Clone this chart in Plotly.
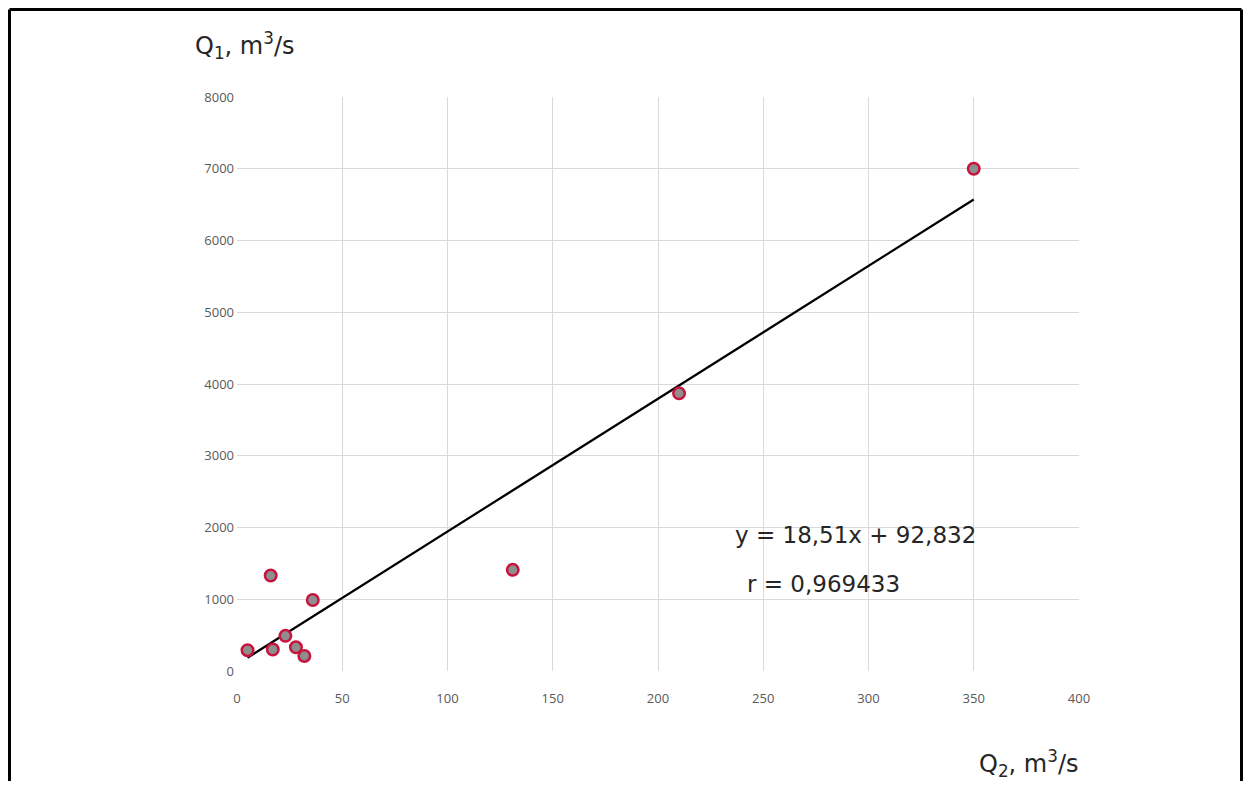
import plotly.graph_objects as go

# Data
q2 = [5, 17, 16, 36, 23, 28, 32, 131, 210, 350]
q1 = [290, 300, 1330, 990, 490, 330, 210, 1410, 3870, 7000]
slope = 18.51
intercept = 92.832
eq_text = "y = 18,51x + 92,832"
r_text = "r = 0,969433"
x_ticks = [0, 50, 100, 150, 200, 250, 300, 350, 400]
y_ticks = [0, 1000, 2000, 3000, 4000, 5000, 6000, 7000, 8000]

OFF = 8  # page body margin
W, H = 1251 - 2 * OFF, 789 - 2 * OFF
L, T = 237 - OFF, 97 - OFF
pw, ph = 842, 574
R, B = W - L - pw, H - T - ph

def px(x):
    return (x - OFF - L) / pw

def py(y):
    return (T + ph - (y - OFF)) / ph

fit_x = [min(q2), max(q2)]
fit_y = [slope * v + intercept for v in fit_x]

fig = go.Figure()
fig.add_trace(go.Scatter(x=fit_x, y=fit_y, mode="lines",
                         line=dict(color="black", width=2.2), hoverinfo="skip"))
fig.add_trace(go.Scatter(x=q2, y=q1, mode="markers",
                         marker=dict(size=11.5, color="#8e8e8e",
                                     line=dict(color="#c8143c", width=2.5))))

tickfont = dict(family="Open Sans, Liberation Sans", size=13, color="#595959")
axis_common = dict(showgrid=True, gridcolor="#d9d9d9", gridwidth=1,
                   zeroline=False, showline=False, ticks="", tickfont=tickfont)
fig.update_xaxes(range=[0, 400], tickvals=x_ticks, ticklabelstandoff=18, **axis_common)
fig.update_yaxes(range=[0, 8000], tickvals=y_ticks, ticklabelstandoff=2, **axis_common)

font_eq = dict(family="DejaVu Sans", size=23, color="#262626")
font_ti = dict(family="DejaVu Sans", size=24, color="#262626")
ann = [
    dict(text="Q<sub>1</sub>, m<sup>3</sup>/s", x=px(193), y=py(45), font=font_ti),
    dict(text="Q<sub>2</sub>, m<sup>3</sup>/s", x=px(977), y=py(764), font=font_ti),
    dict(text=eq_text, x=px(733), y=py(535), font=font_eq),
    dict(text=r_text, x=px(745), y=py(584), font=font_eq),
]
for a in ann:
    fig.add_annotation(xref="paper", yref="paper", showarrow=False,
                       xanchor="left", yanchor="middle", **a)

# frame (top, left, right)
fr = dict(color="black", width=3)
xl, xr, yt = 9.5, 1241.5, 9.5
fig.add_shape(type="line", xref="paper", yref="paper", x0=px(xl), x1=px(xr), y0=py(yt), y1=py(yt), line=fr)
fig.add_shape(type="line", xref="paper", yref="paper", x0=px(xl), x1=px(xl), y0=py(yt), y1=py(800), line=fr)
fig.add_shape(type="line", xref="paper", yref="paper", x0=px(xr), x1=px(xr), y0=py(yt), y1=py(800), line=fr)

fig.update_layout(width=W, height=H, margin=dict(l=L, r=R, t=T, b=B),
                  plot_bgcolor="white", paper_bgcolor="white", showlegend=False)
fig.write_html("out.html")
